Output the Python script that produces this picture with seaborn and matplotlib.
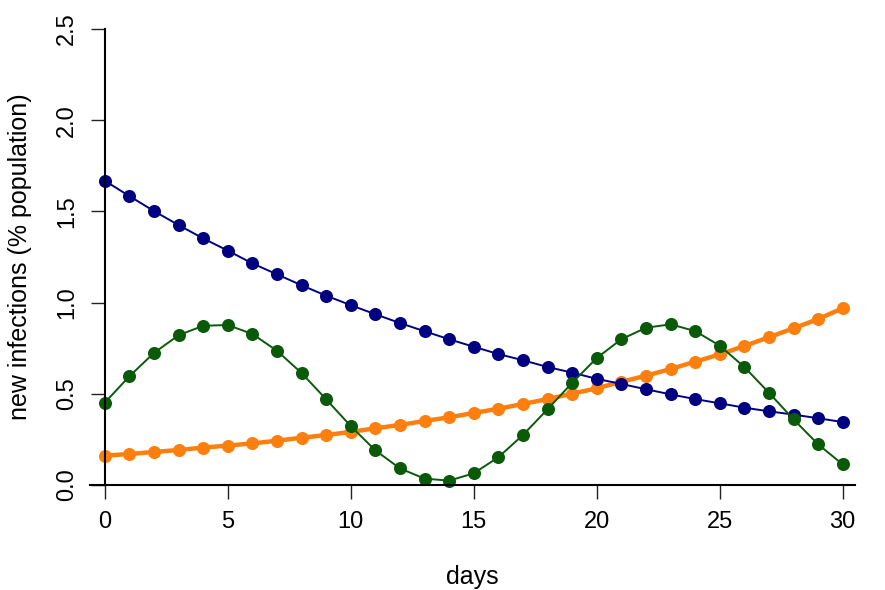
import matplotlib
matplotlib.use("Agg")
import matplotlib.pyplot as plt
import numpy as np
import seaborn as sns

# values, one per day
days = list(range(31))
blue = [1.668, 1.584, 1.502, 1.425, 1.352, 1.285, 1.215, 1.155, 1.095, 1.038,
        0.986, 0.936, 0.888, 0.843, 0.799, 0.758, 0.718, 0.684, 0.647, 0.616,
        0.582, 0.554, 0.525, 0.497, 0.471, 0.448, 0.424, 0.404, 0.386, 0.366,
        0.345]
orange = [0.161, 0.170, 0.181, 0.192, 0.205, 0.216, 0.228, 0.243, 0.259, 0.274,
          0.291, 0.311, 0.329, 0.351, 0.371, 0.395, 0.418, 0.444, 0.471, 0.501,
          0.530, 0.566, 0.599, 0.636, 0.676, 0.716, 0.762, 0.810, 0.859, 0.910,
          0.969]
green = [0.451, 0.596, 0.724, 0.821, 0.873, 0.877, 0.828, 0.736, 0.614, 0.470,
         0.323, 0.190, 0.091, 0.035, 0.024, 0.064, 0.152, 0.274, 0.415, 0.560,
         0.696, 0.799, 0.862, 0.881, 0.844, 0.764, 0.647, 0.506, 0.360, 0.223,
         0.113]

xticks = [0, 5, 10, 15, 20, 25, 30]
yticks = [0.0, 0.5, 1.0, 1.5, 2.0, 2.5]

sns.set_style("white")
plt.rcParams['font.family'] = ['Liberation Sans', 'DejaVu Sans']
plt.rcParams['text.color'] = 'black'
plt.rcParams['xtick.color'] = 'black'
plt.rcParams['ytick.color'] = 'black'
plt.rcParams['axes.labelcolor'] = 'black'

fig = plt.figure(figsize=(8.85, 5.9), dpi=100)
ax = fig.add_axes([90 / 885, 105 / 590, 765 / 885, 456 / 590])

sns.lineplot(x=days, y=orange, ax=ax, color='#ff7f0e', linewidth=3.2,
             marker='o', markersize=9.4, markeredgewidth=0, clip_on=False)
sns.lineplot(x=days, y=blue, ax=ax, color='#000080', linewidth=1.4,
             marker='o', markersize=9.4, markeredgewidth=0, clip_on=False)
sns.lineplot(x=days, y=green, ax=ax, color='#0a5a0a', linewidth=1.4,
             marker='o', markersize=9.4, markeredgewidth=0, clip_on=False)

ax.set_xlim(-0.6, 30.5)
ax.set_ylim(0, 2.5)
ax.set_xticks(xticks)
ax.set_xticklabels([str(t) for t in xticks])
ax.set_yticks(yticks)
ax.set_yticklabels(['%.1f' % t for t in yticks])

for side in ['top', 'right']:
    ax.spines[side].set_visible(False)
ax.spines['left'].set_position(('data', 0))
ax.spines['left'].set_bounds(0, 2.5)
for side in ['left', 'bottom']:
    ax.spines[side].set_linewidth(1.5)
    ax.spines[side].set_color('black')

ax.tick_params(axis='both', direction='out', length=10, width=1,
               color='#222222', labelsize=17, pad=9, left=True, bottom=True,
               labelcolor='black')
ax.tick_params(axis='y', labelrotation=90)
for lab in ax.get_yticklabels():
    lab.set_va('center')

ax.set_xlabel('days', fontsize=18)
ax.set_ylabel('new infections (% population)', fontsize=18)
ax.xaxis.set_label_coords(0.5, -0.175)
ax.yaxis.label.set_va('center')
ax.yaxis.label.set_ha('center')
ax.yaxis.set_label_coords(-0.0915, 0.5)
ax.grid(False)

fig.savefig('out.png', dpi=100)
